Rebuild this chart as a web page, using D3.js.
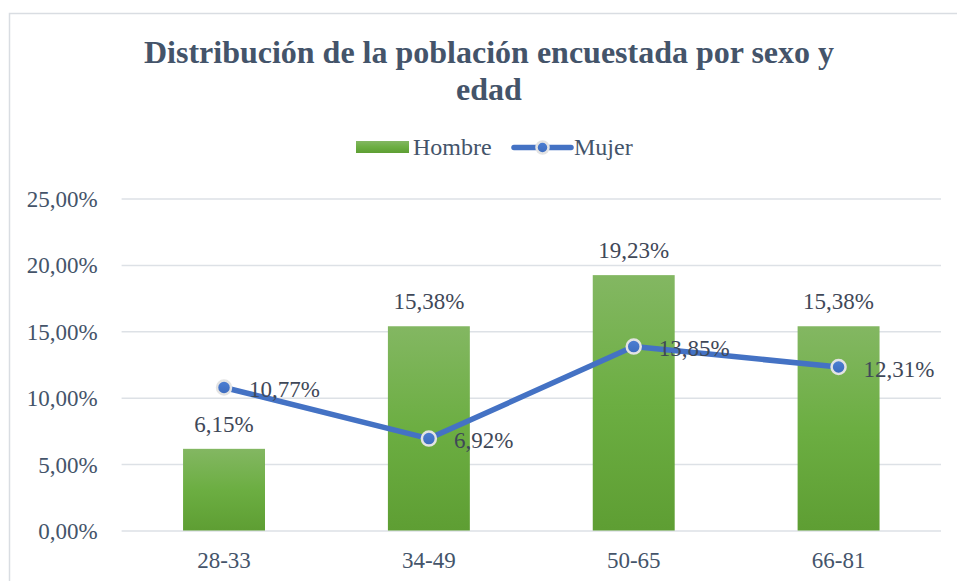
<!DOCTYPE html>
<html>
<head>
<meta charset="utf-8">
<script src="https://cdn.jsdelivr.net/npm/d3@7"></script>
<style>
  html, body { margin: 0; padding: 0; background: #ffffff; }
  svg { display: block; }
  text { font-family: "Liberation Serif", "Times New Roman", serif; }
</style>
</head>
<body>
<svg id="chart" width="957" height="581"></svg>
<script>
const categories = ["28-33", "34-49", "50-65", "66-81"];
const hombre = [6.15, 15.38, 19.23, 15.38];
const mujer = [10.77, 6.92, 13.85, 12.31];
const yTicks = [0, 5, 10, 15, 20, 25];
const titleLines = ["Distribución de la población encuestada por sexo y", "edad"];
const seriesNames = ["Hombre", "Mujer"];

const W = 957, H = 581;
const svg = d3.select("#chart");
const textColor = "#44546A";
const labelColor = "#3f4858";
const lineColor = "#4472C4";

const locale = d3.formatLocale({decimal: ",", thousands: ".", grouping: [3], currency: ["", "€"]});
const fmt = v => locale.format(".2f")(v) + "%";

// chart border
svg.append("rect").attr("x", 9.5).attr("y", 13.5).attr("width", 1000).attr("height", 1000)
  .attr("fill", "#fff").attr("stroke", "#d9dde2").attr("stroke-width", 1.5);

// gradients
const defs = svg.append("defs");
const g1 = defs.append("linearGradient").attr("id", "barGrad").attr("x1", 0).attr("y1", 0).attr("x2", 0).attr("y2", 1);
g1.append("stop").attr("offset", "0%").attr("stop-color", "#83b762");
g1.append("stop").attr("offset", "50%").attr("stop-color", "#6cae42");
g1.append("stop").attr("offset", "100%").attr("stop-color", "#5e9e33");
const g2 = defs.append("linearGradient").attr("id", "dotGrad").attr("x1", 0).attr("y1", 0).attr("x2", 0).attr("y2", 1);
g2.append("stop").attr("offset", "0%").attr("stop-color", "#4d7fd4");
g2.append("stop").attr("offset", "100%").attr("stop-color", "#3c6bbd");

// title
svg.append("text").attr("x", 489).attr("y", 63).attr("text-anchor", "middle")
  .attr("font-size", 32).attr("font-weight", "bold").attr("fill", textColor)
  .selectAll("tspan").data(titleLines).join("tspan")
  .attr("x", 489).attr("y", (d, i) => 63 + i * 37).text(d => d);

// scales
const x = d3.scaleBand().domain(categories).range([121.6, 941]).paddingInner(0.6).paddingOuter(0.3);
const y = d3.scaleLinear().domain([0, 25]).range([530.5, 198.5]);

// grid + y axis
const yAxis = d3.axisLeft(y).tickValues(yTicks).tickFormat(fmt).tickSize(-(941 - 121.6)).tickPadding(24);
const ga = svg.append("g").attr("transform", "translate(121.6,0)").call(yAxis);
ga.select(".domain").remove();
ga.selectAll(".tick line").attr("stroke", "#dde1e6").attr("stroke-width", 1.5);
ga.selectAll(".tick text").attr("font-size", 23).attr("fill", textColor)
  .attr("font-family", "Liberation Serif, Times New Roman, serif").attr("dy", "0.35em");

// x axis
const xAxis = d3.axisBottom(x).tickSize(0).tickPadding(21);
const gx = svg.append("g").attr("transform", "translate(0,530.5)").call(xAxis);
gx.select(".domain").remove();
gx.selectAll(".tick text").attr("font-size", 23).attr("fill", textColor)
  .attr("font-family", "Liberation Serif, Times New Roman, serif");

// bars
svg.append("g").selectAll("rect").data(hombre).join("rect")
  .attr("x", (d, i) => x(categories[i]))
  .attr("width", x.bandwidth())
  .attr("y", d => y(d))
  .attr("height", d => y(0) - y(d))
  .attr("fill", "url(#barGrad)");

// bar labels
svg.append("g").selectAll("text").data(hombre).join("text")
  .attr("x", (d, i) => x(categories[i]) + x.bandwidth() / 2)
  .attr("y", d => y(d) - 17)
  .attr("text-anchor", "middle").attr("font-size", 23).attr("fill", labelColor)
  .text(d => fmt(d));

// line
const cx = i => x(categories[i]) + x.bandwidth() / 2;
const line = d3.line().x((d, i) => cx(i)).y(d => y(d));
svg.append("path").datum(mujer).attr("d", line).attr("fill", "none")
  .attr("stroke", lineColor).attr("stroke-width", 5.5).attr("stroke-linejoin", "round");

svg.append("g").selectAll("circle").data(mujer).join("circle")
  .attr("cx", (d, i) => cx(i)).attr("cy", d => y(d)).attr("r", 7)
  .attr("fill", "url(#dotGrad)").attr("stroke", "#e3e3e3").attr("stroke-width", 2.5);

// line labels
svg.append("g").selectAll("text").data(mujer).join("text")
  .attr("x", (d, i) => cx(i) + 25)
  .attr("y", d => y(d) + 9.5)
  .attr("font-size", 23).attr("fill", labelColor)
  .text(d => fmt(d));

// legend
const lg = svg.append("g");
lg.append("rect").attr("x", 356).attr("y", 141).attr("width", 53).attr("height", 12).attr("fill", "url(#barGrad)");
lg.append("text").attr("x", 413).attr("y", 155).attr("font-size", 24).attr("fill", textColor).text(seriesNames[0]);
lg.append("line").attr("x1", 514).attr("x2", 571).attr("y1", 147.5).attr("y2", 147.5)
  .attr("stroke", lineColor).attr("stroke-width", 5.5).attr("stroke-linecap", "round");
lg.append("circle").attr("cx", 542.5).attr("cy", 147.5).attr("r", 6)
  .attr("fill", "url(#dotGrad)").attr("stroke", "#e3e3e3").attr("stroke-width", 2.5);
lg.append("text").attr("x", 574).attr("y", 155).attr("font-size", 24).attr("fill", textColor).text(seriesNames[1]);
</script>
</body>
</html>
